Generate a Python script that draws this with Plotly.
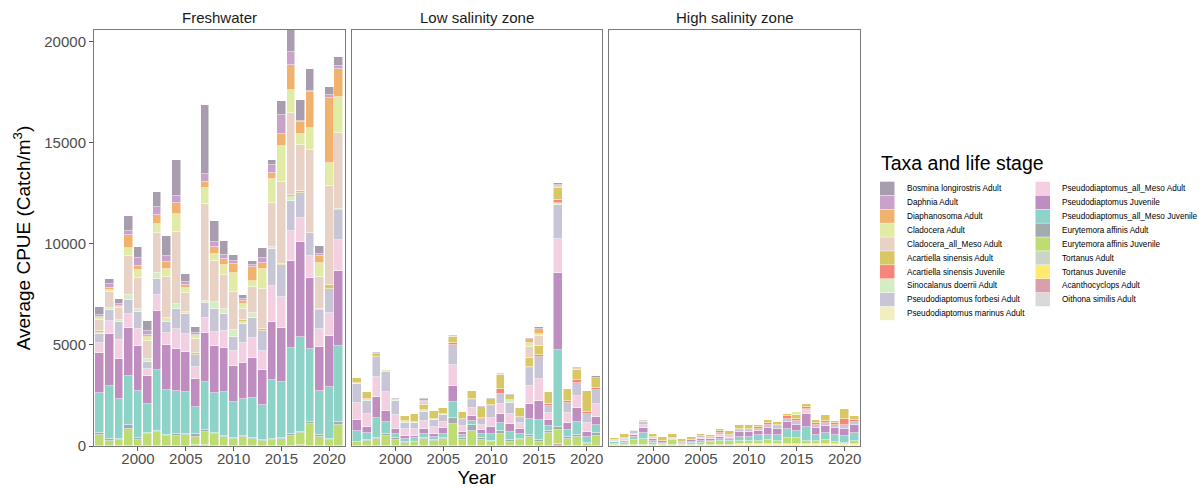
import plotly.graph_objects as go

# Anni di campionamento (uno per barra)
YEARS = list(range(1996, 2022))

# Taxa nell'ordine della legenda (il primo sta in cima alla pila)
TAXA = [
    "Bosmina longirostris Adult",
    "Daphnia Adult",
    "Diaphanosoma Adult",
    "Cladocera Adult",
    "Cladocera_all_Meso Adult",
    "Acartiella sinensis Adult",
    "Acartiella sinensis Juvenile",
    "Sinocalanus doerrii Adult",
    "Pseudodiaptomus forbesi Adult",
    "Pseudodiaptomus marinus Adult",
    "Pseudodiaptomus_all_Meso Adult",
    "Pseudodiaptomus Juvenile",
    "Pseudodiaptomus_all_Meso Juvenile",
    "Eurytemora affinis Adult",
    "Eurytemora affinis Juvenile",
    "Tortanus Adult",
    "Tortanus Juvenile",
    "Acanthocyclops Adult",
    "Oithona similis Adult",
]
COLORS = [
    "#A89DAF", "#C9A2CA", "#F1B26D", "#E1EBA5", "#E8D2C5",
    "#D9C763", "#F7857A", "#D5EDC3", "#C8C6D6", "#F2EEBE",
    "#F3CFE2", "#BF8DC0", "#8DD3C7", "#A2ACAF", "#BDDD73",
    "#CBD5C5", "#FFE96F", "#D99FAA", "#D9D9D9",
]
PANELS = ["Freshwater", "Low salinity zone", "High salinity zone"]
Y_TICKS = [0, 5000, 10000, 15000, 20000]
X_TICKS = [2000, 2005, 2010, 2015, 2020]

# CPUE medio per taxon, 1996-2021
FRESHWATER = {
    "Bosmina longirostris Adult": [411, 247, 230, 740, 526, 494, 757, 1003, 1777, 411, 329, 3389, 1036, 691, 329, 230, 197, 494, 247, 674, 1056, 1036, 1069, 395, 395, 444],
    "Daphnia Adult": [82, 197, 99, 197, 395, 197, 395, 263, 362, 132, 66, 395, 247, 165, 132, 99, 132, 230, 411, 938, 658, 82, 82, 99, 165, 132],
    "Diaphanosoma Adult": [50, 132, 66, 609, 197, 99, 461, 345, 559, 165, 66, 329, 362, 296, 428, 132, 658, 296, 313, 609, 1234, 576, 1777, 362, 3191, 1398],
    "Cladocera Adult": [82, 99, 66, 428, 411, 181, 428, 411, 872, 230, 165, 757, 345, 526, 954, 230, 313, 987, 1168, 1777, 1135, 559, 1102, 658, 1152, 1760],
    "Cladocera_all_Meso Adult": [576, 757, 559, 1925, 1513, 921, 1974, 2007, 3570, 954, 691, 4803, 2007, 1678, 1892, 576, 1267, 2007, 2171, 4030, 4080, 2270, 4080, 1579, 4902, 3751],
    "Acartiella sinensis Adult": [82, 0, 0, 0, 0, 0, 0, 66, 0, 66, 66, 0, 0, 0, 0, 66, 0, 99, 0, 82, 99, 82, 0, 82, 165, 82],
    "Sinocalanus doerrii Adult": [82, 99, 115, 214, 164, 132, 296, 132, 214, 49, 0, 132, 345, 230, 329, 99, 263, 0, 115, 0, 165, 0, 0, 0, 0, 0],
    "Pseudodiaptomus forbesi Adult": [444, 559, 921, 691, 839, 329, 806, 592, 1020, 954, 592, 740, 1119, 855, 707, 987, 987, 987, 1810, 1563, 1513, 1234, 1135, 905, 1184, 1481],
    "Pseudodiaptomus_all_Meso Adult": [461, 625, 938, 724, 822, 362, 773, 576, 971, 905, 625, 740, 724, 855, 724, 987, 987, 938, 1777, 1530, 1481, 1184, 1086, 905, 1152, 1513],
    "Pseudodiaptomus Juvenile": [2007, 2599, 1941, 2369, 2270, 1382, 2928, 2221, 2089, 2007, 1349, 2385, 2336, 2139, 1777, 1760, 1974, 1727, 2879, 2665, 4277, 4705, 3520, 2188, 2517, 3718],
    "Pseudodiaptomus_all_Meso Juvenile": [1974, 2632, 2007, 2418, 2319, 1415, 2994, 2221, 2139, 2056, 1365, 2385, 1941, 2171, 1810, 1810, 2007, 1711, 2912, 2764, 4277, 4672, 3586, 2171, 2599, 3767],
    "Eurytemora affinis Adult": [82, 66, 33, 214, 82, 82, 66, 49, 66, 49, 148, 82, 66, 66, 49, 66, 49, 49, 49, 66, 66, 49, 99, 99, 49, 132],
    "Eurytemora affinis Juvenile": [543, 263, 296, 823, 296, 576, 691, 494, 510, 543, 395, 674, 592, 444, 329, 444, 329, 263, 296, 345, 510, 625, 1102, 444, 280, 1036],
    "Acanthocyclops Adult": [0, 0, 0, 0, 0, 0, 0, 0, 0, 0, 40, 40, 0, 0, 0, 0, 0, 0, 0, 0, 0, 40, 0, 0, 0, 0],
}

LOW_SALINITY = {
    "Bosmina longirostris Adult": [0, 0, 49, 0, 49, 0, 0, 82, 0, 0, 49, 0, 0, 82, 49, 0, 49, 0, 82, 82, 0, 99, 0, 66, 0, 82],
    "Daphnia Adult": [0, 0, 33, 0, 0, 0, 0, 66, 0, 0, 0, 0, 0, 0, 0, 0, 0, 0, 0, 0, 0, 0, 0, 0, 0, 0],
    "Diaphanosoma Adult": [0, 0, 0, 0, 0, 0, 0, 66, 0, 0, 0, 0, 0, 0, 0, 0, 0, 0, 181, 280, 0, 0, 0, 0, 0, 0],
    "Cladocera Adult": [0, 0, 0, 0, 0, 0, 0, 0, 0, 0, 0, 0, 0, 0, 0, 0, 0, 0, 230, 99, 0, 0, 0, 0, 0, 0],
    "Cladocera_all_Meso Adult": [0, 0, 0, 0, 0, 0, 0, 148, 0, 0, 66, 0, 0, 0, 0, 99, 0, 0, 543, 477, 0, 165, 0, 82, 0, 0],
    "Acartiella sinensis Adult": [263, 362, 165, 0, 0, 263, 362, 247, 411, 280, 296, 362, 428, 510, 280, 691, 247, 428, 411, 461, 592, 609, 592, 494, 1020, 526],
    "Acartiella sinensis Juvenile": [0, 0, 0, 0, 0, 0, 0, 0, 0, 0, 82, 49, 49, 66, 66, 247, 0, 49, 82, 115, 82, 132, 82, 132, 132, 99],
    "Sinocalanus doerrii Adult": [49, 66, 0, 115, 82, 66, 82, 115, 49, 66, 0, 0, 0, 0, 0, 0, 165, 0, 0, 0, 0, 82, 0, 0, 0, 0],
    "Pseudodiaptomus forbesi Adult": [905, 658, 987, 954, 691, 329, 296, 428, 362, 313, 987, 296, 395, 296, 559, 510, 543, 263, 872, 1069, 378, 1678, 526, 642, 444, 674],
    "Pseudodiaptomus_all_Meso Adult": [855, 658, 987, 938, 691, 313, 313, 411, 329, 329, 1020, 280, 378, 247, 477, 477, 461, 280, 905, 1069, 329, 1678, 494, 625, 411, 658],
    "Pseudodiaptomus Juvenile": [543, 296, 1020, 559, 247, 165, 132, 230, 165, 280, 790, 165, 247, 197, 345, 428, 411, 230, 740, 954, 280, 3833, 345, 658, 280, 378],
    "Pseudodiaptomus_all_Meso Juvenile": [526, 329, 1003, 609, 214, 132, 165, 214, 132, 214, 823, 132, 214, 214, 313, 411, 395, 263, 773, 987, 263, 3816, 345, 658, 296, 378],
    "Eurytemora affinis Adult": [33, 66, 49, 82, 82, 49, 33, 49, 66, 49, 280, 115, 263, 82, 49, 165, 82, 66, 115, 82, 82, 148, 82, 82, 49, 165],
    "Eurytemora affinis Juvenile": [181, 230, 329, 494, 296, 165, 181, 329, 230, 329, 1086, 296, 757, 296, 214, 576, 214, 280, 428, 214, 658, 658, 345, 461, 82, 494],
    "Acanthocyclops Adult": [0, 0, 0, 0, 0, 0, 0, 0, 0, 0, 0, 0, 0, 0, 0, 0, 0, 0, 0, 0, 0, 115, 0, 0, 0, 0],
}

HIGH_SALINITY = {
    "Cladocera Adult": [0, 0, 0, 0, 0, 0, 0, 0, 0, 0, 0, 0, 0, 0, 0, 0, 0, 0, 0, 132, 0, 0, 0, 0, 0, 0],
    "Cladocera_all_Meso Adult": [0, 0, 82, 99, 0, 0, 0, 0, 0, 0, 0, 0, 0, 0, 0, 0, 0, 0, 0, 0, 0, 0, 0, 0, 0, 0],
    "Acartiella sinensis Adult": [115, 181, 0, 0, 132, 197, 197, 148, 165, 115, 115, 99, 181, 197, 165, 132, 132, 132, 115, 197, 115, 115, 263, 115, 494, 214],
    "Acartiella sinensis Juvenile": [0, 0, 0, 0, 0, 0, 0, 0, 0, 0, 49, 66, 66, 66, 66, 99, 115, 82, 132, 132, 132, 132, 132, 99, 329, 82],
    "Pseudodiaptomus forbesi Adult": [49, 82, 115, 165, 0, 0, 0, 0, 0, 66, 0, 99, 0, 99, 99, 99, 115, 115, 165, 165, 0, 132, 132, 132, 165, 132],
    "Pseudodiaptomus_all_Meso Adult": [49, 99, 82, 132, 115, 0, 66, 0, 0, 82, 66, 99, 99, 0, 0, 0, 0, 0, 0, 0, 230, 0, 0, 0, 0, 0],
    "Pseudodiaptomus Juvenile": [0, 0, 82, 247, 99, 66, 0, 66, 82, 66, 66, 99, 66, 247, 230, 197, 345, 329, 362, 329, 658, 329, 362, 362, 362, 395],
    "Pseudodiaptomus_all_Meso Juvenile": [82, 99, 165, 313, 66, 66, 49, 49, 66, 99, 66, 99, 99, 214, 230, 263, 280, 296, 411, 313, 691, 329, 329, 329, 329, 428],
    "Eurytemora affinis Juvenile": [82, 99, 247, 296, 132, 66, 247, 49, 99, 132, 165, 230, 165, 132, 132, 165, 181, 132, 313, 313, 132, 132, 197, 99, 66, 132],
    "Tortanus Juvenile": [0, 0, 0, 0, 0, 0, 0, 0, 0, 0, 0, 0, 33, 66, 66, 66, 66, 66, 66, 66, 66, 66, 66, 66, 66, 66],
    "Oithona similis Adult": [40, 40, 40, 40, 40, 40, 40, 40, 40, 40, 40, 40, 40, 40, 40, 40, 40, 40, 40, 40, 40, 40, 40, 40, 40, 40],
}

FONT = "Liberation Sans, Arial, sans-serif"

# Area dei pannelli in pixel: le coordinate paper sono calcolate da qui
L, R, T, B = 94, 860, 30, 446
def px_x(p):
    return (p - L) / (R - L)
def px_y(p):
    return (B - p) / (B - T)

PANEL_PX = [(94, 344.5), (351.5, 602), (609, 860)]

fig = go.Figure()

# Le tracce vanno aggiunte dal fondo della pila (ultimo taxon della legenda) verso l'alto
for k, region in enumerate([FRESHWATER, LOW_SALINITY, HIGH_SALINITY]):
    suffix = "" if k == 0 else str(k + 1)
    for name, color in reversed(list(zip(TAXA, COLORS))):
        if name not in region:
            continue
        fig.add_trace(go.Bar(
            x=YEARS, y=region[name], name=name,
            marker=dict(color=color, line=dict(color="white", width=0.5)),
            width=0.9, xaxis="x" + suffix, yaxis="y" + suffix,
            showlegend=False,
            hovertemplate=name + "<br>%{x}: %{y}<extra>" + PANELS[k] + "</extra>",
        ))

axis_common = dict(
    showgrid=False, zeroline=False, showline=True, mirror=True,
    linecolor="#7a7a7a", linewidth=1, automargin=False,
    ticks="outside", ticklen=4, tickwidth=1, tickcolor="#555555",
    tickfont=dict(family=FONT, size=15, color="#4d4d4d"),
)

layout = dict(
    width=1202, height=488,
    margin=dict(l=L, r=1202 - R, t=T, b=488 - B, autoexpand=False),
    paper_bgcolor="white", plot_bgcolor="white",
    barmode="stack", bargap=0,
    font=dict(family=FONT),
    showlegend=False,
)

for k, (x0, x1) in enumerate(PANEL_PX):
    suffix = "" if k == 0 else str(k + 1)
    layout["xaxis" + suffix] = dict(
        axis_common, domain=[px_x(x0), px_x(x1)], range=[1995.4, 2021.6],
        tickvals=X_TICKS, ticktext=[str(v) for v in X_TICKS], anchor="y" + suffix,
        ticklabelstandoff=-5,
    )
    layout["yaxis" + suffix] = dict(
        axis_common, domain=[0, 1], range=[0, 20560],
        tickvals=Y_TICKS, ticktext=[str(v) for v in Y_TICKS], anchor="x" + suffix,
        showticklabels=(k == 0), ticks="outside" if k == 0 else "",
    )

layout["yaxis"]["title"] = dict(text="Average CPUE (Catch/m<sup>3</sup>)",
                                font=dict(family=FONT, size=19, color="black"), standoff=8)
layout["xaxis2"]["title"] = dict(text="Year", font=dict(family=FONT, size=19, color="black"),
                                 standoff=11)

fig.update_layout(**layout)

# Etichette dei pannelli (strip)
for k, (x0, x1) in enumerate(PANEL_PX):
    fig.add_annotation(text=PANELS[k], x=px_x((x0 + x1) / 2), y=px_y(17),
                       xref="paper", yref="paper", xanchor="center", yanchor="middle",
                       showarrow=False, font=dict(family=FONT, size=15, color="#1a1a1a"))

# Legenda su due colonne, come nel grafico originale
fig.add_annotation(text="Taxa and life stage", x=px_x(879), y=px_y(163),
                   xref="paper", yref="paper", xanchor="left", yanchor="middle",
                   showarrow=False, font=dict(family=FONT, size=19.5, color="black"))
for i, (name, color) in enumerate(zip(TAXA, COLORS)):
    col, row = divmod(i, 10)
    kx = 880 if col == 0 else 1035.5
    ky = 181.7 + 13.9 * row
    fig.add_shape(type="rect", xref="paper", yref="paper",
                  x0=px_x(kx), x1=px_x(kx + 14.5), y0=px_y(ky), y1=px_y(ky + 13.4),
                  fillcolor=color, line=dict(width=0))
    fig.add_annotation(text=name, x=px_x(kx + 24.5), y=px_y(ky + 6.9),
                       xref="paper", yref="paper", xanchor="left", yanchor="middle",
                       showarrow=False, font=dict(family=FONT, size=8.2, color="black"))

# La pagina HTML ha un margine di 8px sul body: lo azzeriamo per allineare la figura
fig.write_html("out.html", config={"displayModeBar": False},
               post_script="document.body.style.margin='0';")
